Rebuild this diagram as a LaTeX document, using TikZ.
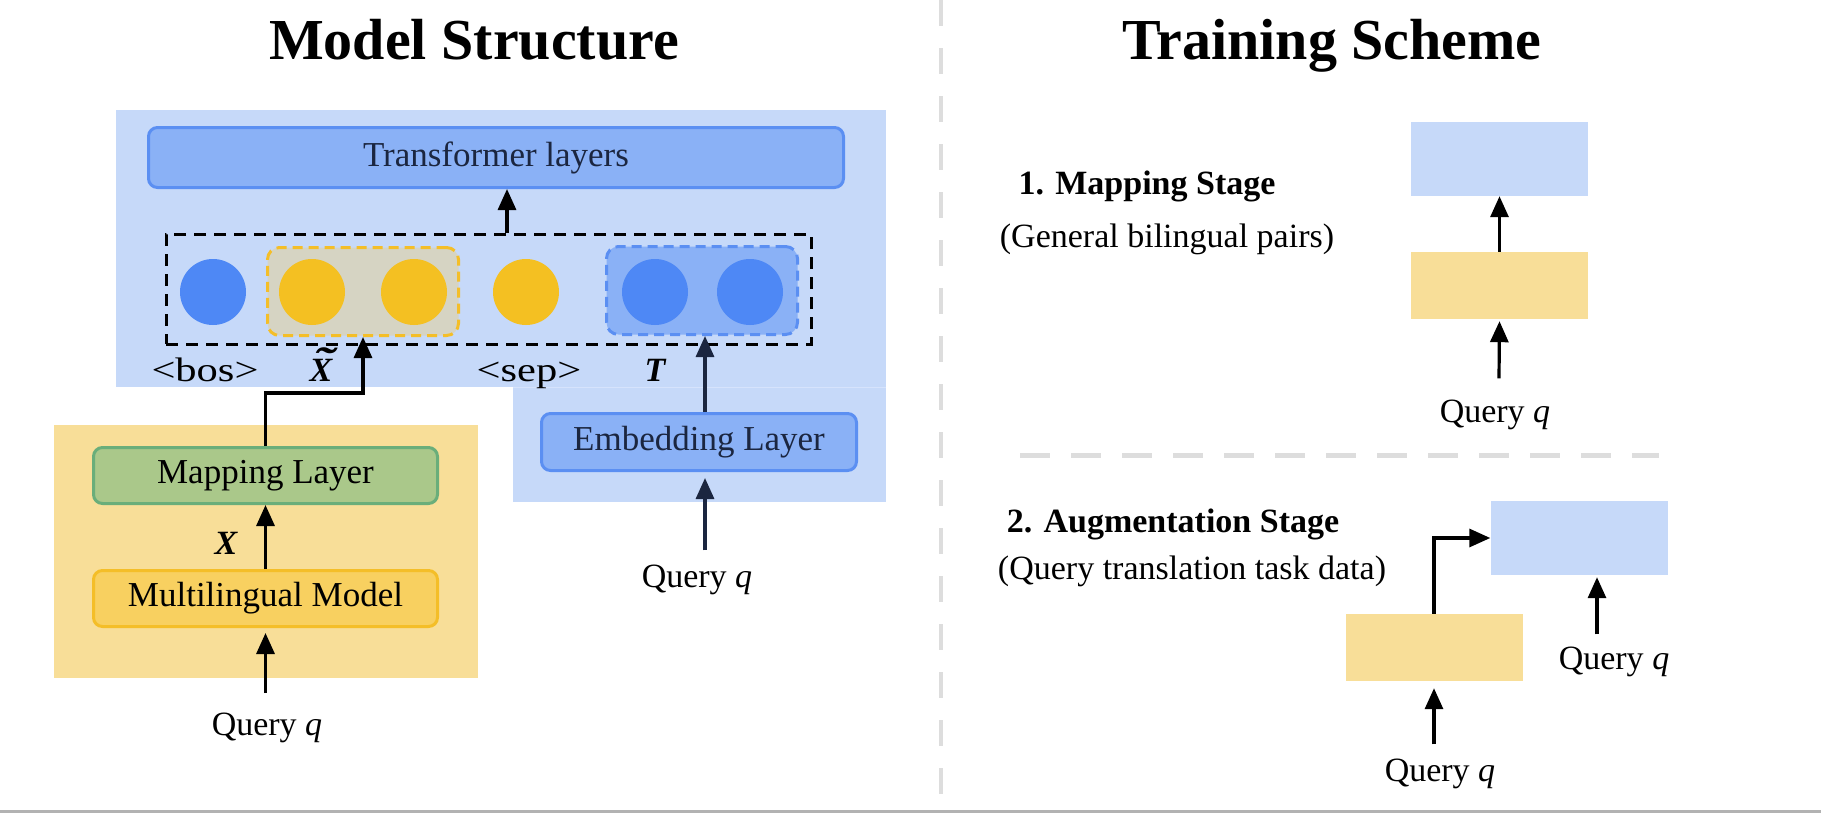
\documentclass[tikz,border=0pt]{standalone}
\usepackage{fontspec}
\usepackage{graphicx}
\setmainfont{Liberation Serif}
\usetikzlibrary{arrows.meta}

\definecolor{bgblue}{RGB}{198,217,249}
\definecolor{boxblue}{RGB}{138,177,246}
\definecolor{lineblue}{RGB}{91,143,242}
\definecolor{dotblue}{RGB}{78,136,245}
\definecolor{dotyellow}{RGB}{244,192,34}
\definecolor{bgyellow}{RGB}{248,222,152}
\definecolor{boxyellow}{RGB}{248,208,96}
\definecolor{lineyellow}{RGB}{244,190,40}
\definecolor{boxgreen}{RGB}{170,200,138}
\definecolor{linegreen}{RGB}{106,174,122}
\definecolor{grpgray}{RGB}{214,212,195}
\definecolor{navy}{RGB}{27,38,64}
\definecolor{sepgray}{RGB}{221,221,221}

\newcommand{\tokname}[1]{\scalebox{1.25}[1]{\textless #1\textgreater}}
\newcommand{\widevar}[1]{\setbox0\hbox{#1}\rlap{\hbox to \wd0{\hss\kern0.14em\raisebox{0.16em}{\scalebox{1.8}[1.2]{\char"02DC}}\hss}}\box0}

\begin{document}
\begin{tikzpicture}[x=1pt, y=-1pt,
  arr/.style={line width=3.2pt, -{Triangle[length=21pt,width=18pt]}},
  layer/.style={draw, line width=3pt, rounded corners=9pt, inner sep=0pt, font=\fontsize{35}{40}\selectfont},
  grp/.style={draw, line width=3pt, dash pattern=on 10pt off 6pt, rounded corners=12pt, minimum width=191pt, minimum height=88pt},
  token/.style={circle, minimum size=66pt, inner sep=0pt},
  stagebox/.style={inner sep=0pt, minimum width=177pt},
  lbl/.style={anchor=base, inner sep=0pt, font=\fontsize{34}{40}\selectfont},
  var/.style={lbl, font=\fontsize{34}{40}\selectfont\bfseries\itshape},
  head/.style={anchor=base, inner sep=0pt, font=\fontsize{58}{64}\selectfont\bfseries},
  stage/.style={lbl, font=\fontsize{34}{40}\selectfont\bfseries}
]
\useasboundingbox (0,0) rectangle (1821,819);

% backgrounds
\fill[bgblue] (116,110) rectangle (886,387);
\fill[bgblue] (513,387) rectangle (886,502);
\draw[lineblue!25, line width=1pt] (513,387) -- (886,387);
\fill[bgyellow] (54,425) rectangle (478,678);

% titles
\node[head] (ttl1) at (474,59) {Model Structure};
\node[head] (ttl2) at (1332,59) {Training Scheme};

% model structure
\node[layer, fill=boxblue, draw=lineblue, text=navy, minimum width=695pt, minimum height=60pt] (trans) at (496,157.5) {Transformer layers};
\node[draw, line width=3pt, dash pattern=on 12pt off 8pt, minimum width=645pt, minimum height=110pt] (tokens) at (488.5,289) {};
\node[grp, fill=grpgray, draw=lineyellow] (grpx) at (363,291.5) {};
\node[grp, fill=boxblue, draw=lineblue] (grpt) at (702,290.5) {};
\foreach \name/\x/\c in {bos/213/dotblue, xa/312/dotyellow, xb/414/dotyellow, sep/526/dotyellow, ta/655/dotblue, tb/750/dotblue}
  \node[token, fill=\c] (\name) at (\x,292) {};

\node[lbl] (bosl) at (205,381) {\tokname{bos}};
\node[var] (xtl) at (321,381) {\widevar{X}};
\node[lbl] (sepl) at (529,381) {\tokname{sep}};
\node[var] (tl) at (655,381) {T};

\node[layer, fill=boxgreen, draw=linegreen, minimum width=344pt, minimum height=56pt] (maplayer) at (265.5,475.5) {Mapping Layer};
\node[layer, fill=boxyellow, draw=lineyellow, minimum width=344pt, minimum height=56pt] (mllm) at (265.5,598.5) {Multilingual Model};
\node[var] (xl) at (226,554) {X};
\node[lbl] (qleft) at (267,735) {Query \textit{q}};

\node[layer, fill=boxblue, draw=lineblue, text=navy, minimum width=315pt, minimum height=57pt] (embed) at (699,442) {Embedding Layer};
\node[lbl] (qmid) at (697,587) {Query \textit{q}};

\coordinate (bend) at (0,393);
\draw[arr] ([xshift=18.5pt]tokens.north) -- ([xshift=11pt]trans.south);
\draw[arr] (maplayer.north) |- (grpx.south |- bend) -- (grpx.south);
\draw[arr] (mllm.north) -- (maplayer.south);
\draw[arr] ([yshift=-5pt]mllm.south) coordinate (mlin) ++(0,60) -- (mlin);
\draw[arr, navy] ([xshift=6pt]embed.north) coordinate (eup) -- (eup |- grpt.south);
\draw[arr, navy] ([xshift=8pt,yshift=14pt]qmid.north) -- ([xshift=6pt,yshift=-6pt]embed.south);

% training scheme
\node[stage] (s1) at (1147,194) {1. Mapping Stage};
\node[lbl] (s1d) at (1167,247) {(General bilingual pairs)};
\node[stagebox, fill=bgblue, minimum height=74pt] (m1t) at (1499.5,159) {};
\node[stagebox, fill=bgyellow, minimum height=67pt] (m1b) at (1499.5,285.5) {};
\node[lbl] (m1q) at (1495,422) {Query \textit{q}};
\draw[arr] (m1b.north) -- (m1t.south);
\draw[arr] ([xshift=4pt,yshift=21pt]m1q.north) -- ([yshift=-2pt]m1b.south);

\node[stage] (s2) at (1173,532) {2. Augmentation Stage};
\node[lbl] (s2d) at (1192,579) {(Query translation task data)};
\node[stagebox, fill=bgblue, minimum height=74pt] (a2t) at (1579,538) {};
\node[stagebox, fill=bgyellow, minimum height=67pt] (a2b) at (1434,647.5) {};
\node[lbl] (a2q) at (1614,669) {Query \textit{q}};
\node[lbl] (a2qb) at (1440,781) {Query \textit{q}};
\draw[arr] (a2b.north) |- (a2t.west);
\draw[arr] ([xshift=-17pt,yshift=12pt]a2q.north) -- ([xshift=18pt,yshift=-2pt]a2t.south);
\draw[arr] ([xshift=-6pt,yshift=14pt]a2qb.north) -- ([yshift=-7pt]a2b.south);

% separators
\draw[sepgray, line width=4pt, dash pattern=on 26pt off 22pt] (941,0) -- (941,803);
\draw[sepgray, line width=5pt, dash pattern=on 30pt off 21pt] (1020,455) -- (1659,455);
\draw[black!30, line width=3pt] (0,811) -- (1821,811);
\end{tikzpicture}
\end{document}
